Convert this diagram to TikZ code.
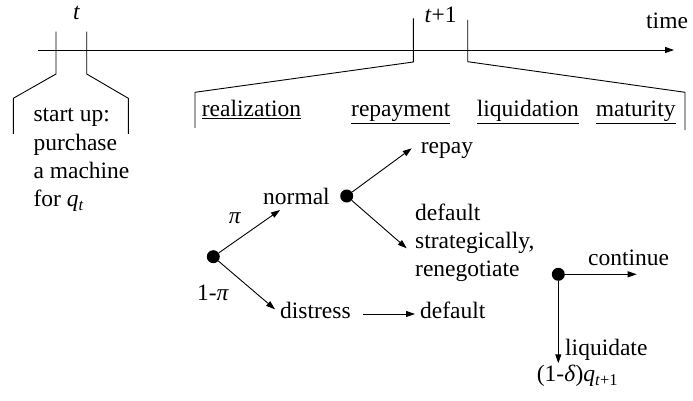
\documentclass[tikz,border=0pt]{standalone}
\usepackage{fontspec}
\setmainfont{Liberation Serif}
\usetikzlibrary{arrows.meta}
\begin{document}
\begin{tikzpicture}[x=1pt,y=-1pt,
  ln/.style={line width=0.9pt},
  arr/.style={line width=0.9pt,-{Triangle[length=9pt,width=6pt]}},
  lbl/.style={inner sep=0pt,anchor=base west,font=\fontsize{23.5}{28}\selectfont},
  lblc/.style={inner sep=0pt,anchor=base,font=\fontsize{23.5}{28}\selectfont},
  dot/.style={circle,fill=black,inner sep=0pt,minimum size=13pt}]
\useasboundingbox (0,0) rectangle (693,401);
% timeline
\coordinate (tl0) at (37.7,50);
\coordinate (tl1) at (674,50);
\draw[arr] (tl0) -- (tl1);
\node[lbl] (time) at (646,29) {time};
% bracket t
\draw[ln] (56,31.7) -- (56,74) -- (13.3,98.3) -- (13.3,134);
\draw[ln] (86.7,31.7) -- (86.7,74) -- (128.3,98.3) -- (128.3,134);
\node[lblc] (tt) at (76.7,20) {\textit{t}};
% bracket t+1
\draw[ln] (413.3,18.3) -- (413.3,62) -- (195,92.3) -- (195,128);
\draw[ln] (467.7,20) -- (467.7,61.7) -- (685,92.3) -- (685,130);
\node[lblc] (tt1) at (440.5,23) {\textit{t}+1};
% phase labels
\node[lbl] (real) at (201.7,116.5) {\underline{realization}};
\node[lbl] (repm) at (351,116.5) {\underline{repayment}};
\node[lbl] (liq) at (476.7,116.5) {\underline{liquidation}};
\node[lbl] (mat) at (595.7,116.5) {\underline{maturity}};
% start up
\node[lbl] (su1) at (33.3,122) {start up:};
\node[lbl] (su2) at (33.3,150) {purchase};
\node[lbl] (su3) at (33.3,178.3) {a machine};
\node[lbl] (su4) at (33.3,206.7) {for \textit{q}\textsubscript{\textit{t}}};
% tree
\node[dot] (d1) at (213.3,256.7) {};
\node[dot] (d2) at (346.7,196) {};
\node[dot] (d3) at (558.3,274.3) {};
\node[lbl] (normal) at (263,204.5) {normal};
\node[lblc] (pi) at (235,223) {\textit{π}};
\node[lblc] (mpi) at (213,300) {1-\textit{π}};
\node[lbl] (distress) at (280,318.3) {distress};
\node[lbl] (def2) at (420,318.3) {default};
\node[lbl] (repay) at (420.7,153.3) {repay};
\node[lbl] (def1) at (415,220) {default};
\node[lbl] (strat) at (415,248) {strategically,};
\node[lbl] (reneg) at (415,276) {renegotiate};
\node[lbl] (cont) at (588,265) {continue};
\node[lbl] (liqd) at (565,355) {liquidate};
\node[lbl] (val) at (536.7,381.7) {(1-\textit{δ})\textit{q}\textsubscript{\textit{t}+1}};
\coordinate (tN) at (280,210);
\coordinate (tD) at (275,309.3);
\coordinate (tR) at (411.7,148.3);
\coordinate (tS) at (406.7,248.3);
\coordinate (dA) at (363,314);
\coordinate (dB) at (415,314);
\coordinate (tC) at (636.7,274.3);
\coordinate (tL) at (558.3,363.3);
\draw[arr] (d1) -- (tN);
\draw[arr] (d1) -- (tD);
\draw[arr] (d2) -- (tR);
\draw[arr] (d2) -- (tS);
\draw[arr] (dA) -- (dB);
\draw[arr] (d3) -- (tC);
\draw[arr] (d3) -- (tL);
\end{tikzpicture}
\end{document}
